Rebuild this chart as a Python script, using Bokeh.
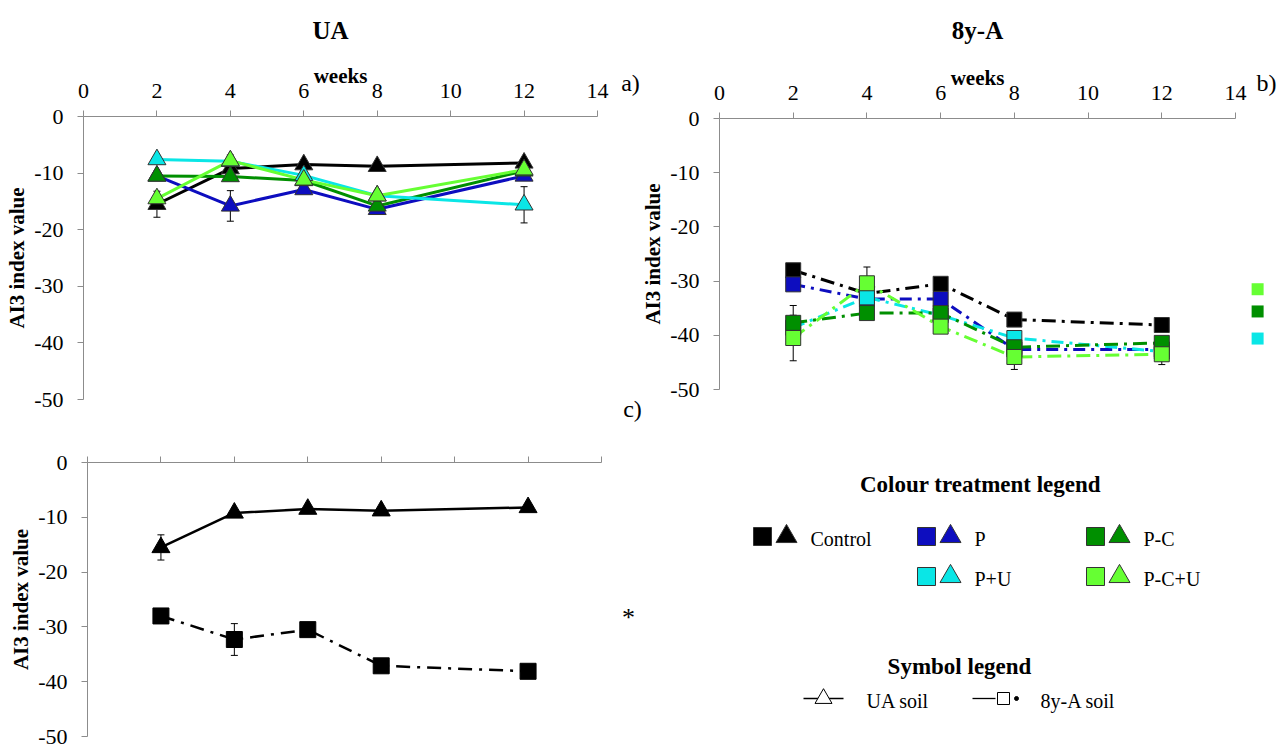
from bokeh.plotting import figure
from bokeh.models import (Range1d, Label, Whisker, ColumnDataSource, TeeHead, FixedTicker,
                          LinearAxis, PrintfTickFormatter)
from bokeh.embed import file_html
from bokeh.resources import INLINE

# ---------------- data ----------------
weeks = [2, 4, 6, 8, 12]
x_ticks = [0, 2, 4, 6, 8, 10, 12, 14]
y_ticks = [0, -10, -20, -30, -40, -50]
treatments = ["Control", "P", "P-C", "P+U", "P-C+U"]
colours = ["#000000", "#0D0DBF", "#008F00", "#0AE6E6", "#66FF33"]

# UA soil (panel a)
ua_control = [-15.5, -9.2, -8.5, -8.8, -8.2]
ua_p = [-10.5, -15.8, -12.9, -16.4, -10.5]
ua_pc = [-10.5, -10.6, -11.3, -15.8, -9.6]
ua_pu = [-7.6, -7.9, -10.4, -14.0, -15.6]
ua_pcu = [-14.5, -7.8, -11.2, -14.0, -9.4]
ua_control_err = [2.3, 0.0, 0.0, 0.0, 0.6]
ua_p_err = [0.0, 2.7, 0.0, 0.0, 0.0]
ua_pc_err = [0.0, 0.0, 0.0, 0.0, 0.0]
ua_pu_err = [0.0, 0.0, 0.0, 0.0, 3.2]
ua_pcu_err = [0.0, 1.0, 0.0, 0.0, 0.0]

# 8y-A soil (panel b)
y8_control = [-28.0, -32.3, -30.5, -37.1, -38.1]
y8_p = [-30.6, -33.3, -33.3, -42.6, -42.6]
y8_pc = [-37.7, -35.9, -35.9, -42.2, -41.4]
y8_pu = [-38.6, -33.0, -36.3, -40.5, -43.0]
y8_pcu = [-40.5, -30.4, -38.4, -44.0, -43.5]
y8_control_err = [0.0, 2.9, 0.0, 0.0, 0.0]
y8_p_err = [0.0, 0.0, 0.0, 0.0, 0.0]
y8_pc_err = [3.2, 0.0, 0.0, 0.0, 0.0]
y8_pu_err = [0.0, 0.0, 0.0, 0.0, 0.0]
y8_pcu_err = [4.2, 3.0, 0.0, 2.3, 1.9]

# stray legend keys at the right of panel b (P-C+U, P-C, P+U)
stray_colours = ["#66FF33", "#008F00", "#0AE6E6"]
stray_levels = [-31.5, -35.6, -40.6]

FONT = "Liberation Serif"
AXIS_GREY = "#8C8C8C"
EDGE = "#333333"
W, H = 1280, 745

# one canvas; every panel gets its own pair of ranges mapped onto it
p = figure(width=W, height=H, x_range=Range1d(0, W), y_range=Range1d(H, 0),
           x_axis_type=None, y_axis_type=None, min_border=0,
           output_backend="svg", toolbar_location=None)
p.outline_line_color = None
p.background_fill_color = "white"
p.border_fill_color = "white"

# panel frames in canvas pixels: (x of week 0, x of week 14, y of 0, y of -50)
frames = {"a": (83, 597, 116, 399), "b": (719, 1235, 118, 389), "c": (87, 601, 462, 736)}
xr, yr = {}, {}
for name, (x0, x14, y0, y50) in frames.items():
    sx = (x14 - x0) / 14
    sy = (y50 - y0) / 50
    xr[name] = Range1d(-x0 / sx, (W - x0) / sx)
    yr[name] = Range1d(-(H - y0) / sy, y0 / sy)
p.extra_x_ranges = xr
p.extra_y_ranges = yr


def style_axis(ax):
    ax.axis_line_color = AXIS_GREY
    ax.axis_line_width = 1
    ax.major_tick_line_color = AXIS_GREY
    ax.major_tick_in = 0
    ax.major_tick_out = 6
    ax.minor_tick_line_color = None
    ax.major_label_text_font = FONT
    ax.major_label_text_font_size = "22px"
    ax.major_label_text_color = "black"
    ax.axis_label_text_font = FONT
    ax.axis_label_text_font_style = "bold"
    ax.axis_label_text_color = "black"


def add_axes(name, tick_labels=True):
    xa = LinearAxis(x_range_name=name, y_range_name=name, fixed_location=0,
                    bounds=(0, 14), ticker=FixedTicker(ticks=x_ticks),
                    formatter=PrintfTickFormatter(format="%d"))
    style_axis(xa)
    xa.major_label_standoff = 13
    if tick_labels:
        xa.axis_label = "weeks"
        xa.axis_label_text_font_size = "21px"
        xa.axis_label_standoff = -7
    else:
        xa.major_label_overrides = {t: "" for t in x_ticks}
    p.add_layout(xa, "above")
    ya = LinearAxis(x_range_name=name, y_range_name=name, fixed_location=0,
                    bounds=(-50, 0), ticker=FixedTicker(ticks=y_ticks),
                    formatter=PrintfTickFormatter(format="%d"),
                    axis_label="AI3 index value")
    style_axis(ya)
    ya.major_label_standoff = 14
    ya.axis_label_text_font_size = "21px"
    ya.axis_label_standoff = 2
    p.add_layout(ya, "left")


def errorbars(name, xs, ys, errs):
    keep = [i for i, e in enumerate(errs) if e > 0]
    if not keep:
        return
    src = ColumnDataSource(dict(
        x=[xs[i] for i in keep],
        upper=[ys[i] + errs[i] for i in keep],
        lower=[ys[i] - errs[i] for i in keep]))
    p.add_layout(Whisker(base="x", upper="upper", lower="lower", source=src,
                         x_range_name=name, y_range_name=name,
                         line_color="black", line_width=1,
                         upper_head=TeeHead(size=7, line_color="black", line_width=1),
                         lower_head=TeeHead(size=7, line_color="black", line_width=1)))


def note(x, y, text, size, bold=False, align="center", baseline="middle"):
    p.add_layout(Label(x=x, y=y, text=text, text_font=FONT, text_font_size=size,
                       text_font_style="bold" if bold else "normal",
                       text_color="black", text_align=align, text_baseline=baseline))


# ---------------- panel a (UA) ----------------
add_axes("a")
ua_series = [ua_control, ua_p, ua_pc, ua_pu, ua_pcu]
ua_errs = [ua_control_err, ua_p_err, ua_pc_err, ua_pu_err, ua_pcu_err]
for ys, es in zip(ua_series, ua_errs):
    errorbars("a", weeks, ys, es)
for ys, col in zip(ua_series, colours):
    p.line(weeks, ys, line_color=col, line_width=3, x_range_name="a", y_range_name="a")
for ys, col in zip(ua_series, colours):
    p.scatter(weeks, ys, marker="triangle", size=18, fill_color=col, line_color=EDGE,
              line_width=1, x_range_name="a", y_range_name="a")

# ---------------- panel b (8y-A) ----------------
add_axes("b")
y8_series = [y8_control, y8_p, y8_pc, y8_pu, y8_pcu]
y8_errs = [y8_control_err, y8_p_err, y8_pc_err, y8_pu_err, y8_pcu_err]
dashes = ["14 6 3 6", "12 6 3 6", "14 6 3 6", "12 6 3 6", "14 6 3 6"]
order = [0, 1, 3, 2, 4]
for ys, es in zip(y8_series, y8_errs):
    errorbars("b", weeks, ys, es)
for i in order:
    p.line(weeks, y8_series[i], line_color=colours[i], line_width=3, line_dash=dashes[i],
           x_range_name="b", y_range_name="b")
for i in order:
    p.scatter(weeks, y8_series[i], marker="square", size=15, fill_color=colours[i],
              line_color=EDGE, line_width=1, x_range_name="b", y_range_name="b")
stray_x = [14.6] * len(stray_levels)
p.scatter(stray_x, stray_levels, marker="square", size=12, fill_color=stray_colours,
          line_color=None, x_range_name="b", y_range_name="b")

# ---------------- panel c (Control, both soils) ----------------
add_axes("c", tick_labels=False)
errorbars("c", weeks, ua_control, ua_control_err)
errorbars("c", weeks, y8_control, y8_control_err)
p.line(weeks, ua_control, line_color="black", line_width=2.5, x_range_name="c", y_range_name="c")
p.scatter(weeks, ua_control, marker="triangle", size=18, fill_color="black",
          line_color="black", x_range_name="c", y_range_name="c")
p.line(weeks, y8_control, line_color="black", line_width=2.5, line_dash="14 7 3 7",
       x_range_name="c", y_range_name="c")
p.scatter(weeks, y8_control, marker="square", size=16, fill_color="black",
          line_color="black", x_range_name="c", y_range_name="c")

# ---------------- titles and panel letters (canvas pixels) ----------------
note(330, 30, "UA", "25px", bold=True)
note(977, 30, "8y-A", "25px", bold=True)
note(630, 82, "a)", "24px")
note(1266, 82, "b)", "24px")
note(632, 408, "c)", "24px")
note(628, 617, "*", "26px")

# ---------------- legend block (canvas pixels) ----------------
note(980, 484, "Colour treatment legend", "23px", bold=True)
key_x = [762, 926, 1095, 926, 1095]
key_y = [536, 536, 536, 576, 576]
p.scatter(key_x, key_y, marker="square", size=18, fill_color=colours, line_color=EDGE)
p.scatter([k + 24 for k in key_x], key_y, marker="triangle", size=21,
          fill_color=colours, line_color=EDGE)
for name, kx, ky in zip(treatments, key_x, key_y):
    note(kx + 48, ky + 2, name, "20px", align="left")
note(959, 666, "Symbol legend", "23px", bold=True)
p.line([803, 843], [698, 698], line_color="black", line_width=1.3)
p.scatter([823], [698], marker="triangle", size=17, fill_color="white", line_color="black")
note(866, 700, "UA soil", "20px", align="left")
p.line([972, 995], [698, 698], line_color="black", line_width=1.3)
p.scatter([1003], [698], marker="square", size=12, fill_color="white", line_color="black")
p.scatter([1016], [698], marker="circle", size=4, fill_color="black", line_color="black")
note(1040, 700, "8y-A soil", "20px", align="left")

open("out.html", "w").write(file_html(p, INLINE))
